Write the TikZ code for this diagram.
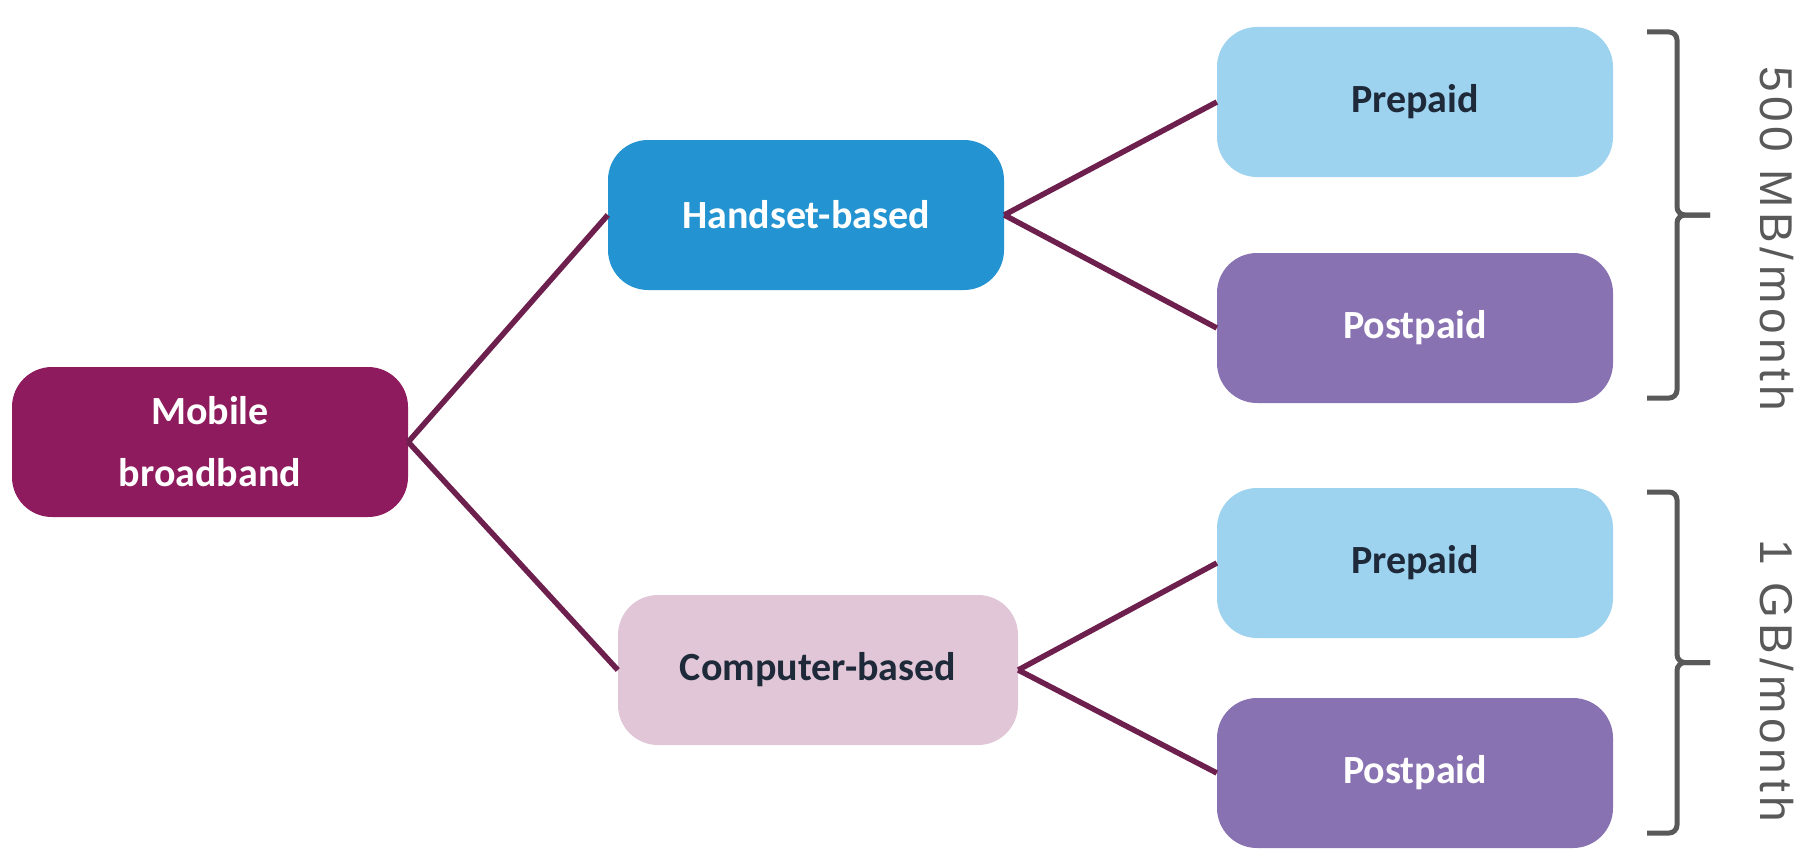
\documentclass[tikz,border=0pt]{standalone}
\usepackage{fontspec}
\setmainfont{Carlito}
\newfontfamily\sidefont[LetterSpace=10]{Liberation Sans}
\definecolor{mobilered}{HTML}{8E1B5D}
\definecolor{handblue}{HTML}{2394D1}
\definecolor{comppink}{HTML}{E0C6D6}
\definecolor{prepaidblue}{HTML}{9DD3EE}
\definecolor{postpurple}{HTML}{8872B2}
\definecolor{linkred}{HTML}{6D1F4D}
\definecolor{darktext}{HTML}{1E2A3A}
\definecolor{bracegray}{HTML}{595959}
\begin{document}
\begin{tikzpicture}[x=1pt,y=-1pt,
    box/.style={rounded corners=40pt, minimum width=396pt, minimum height=150pt,
        align=center, inner sep=0pt, font=\fontsize{40}{62}\selectfont\bfseries},
    link/.style={draw=linkred, line width=5.5pt},
    bracket/.style={draw=bracegray, line width=5pt, rounded corners=8pt},
    sidelabel/.style={rotate=-90, anchor=base, text=bracegray,
        font=\sidefont\fontsize{46}{46}\selectfont}]
    \useasboundingbox (0,0) rectangle (1811,856);
    % root and middle level
    \node[box, fill=mobilered, text=white] (mob) at (210,442) {Mobile\\broadband};
    \node[box, fill=handblue, text=white] (hand) at (806,215) {Handset-based};
    \node[box, fill=comppink, text=darktext, minimum width=400pt] (comp) at (818,670) {Computer-based};
    % plans on the right
    \foreach \y/\n/\lbl/\c/\t in {102/pre1/Prepaid/prepaidblue/darktext,
        328/post1/Postpaid/postpurple/white,
        563/pre2/Prepaid/prepaidblue/darktext,
        773/post2/Postpaid/postpurple/white}{%
        \node[box, fill=\c, text=\t] (\n) at (1415,\y) {\lbl};
    }
    % connectors
    \draw[link] (mob.east) -- (hand.west);
    \draw[link] (mob.east) -- (comp.west);
    \foreach \a/\b in {hand/pre1, hand/post1, comp/pre2, comp/post2}
        \draw[link] (\a.east) -- (\b.west);
    % brackets with data volume
    \foreach \t/\b in {32/398, 492/833}{%
        \pgfmathsetmacro{\m}{(\t+\b)/2}
        \draw[bracket] (1647,\t) -- (1677,\t) -- (1677,\m) -- (1710,\m);
        \draw[bracket] (1647,\b) -- (1677,\b) -- (1677,\m) -- (1710,\m);
    }
    \node[sidelabel] (vol1) at (1760,239) {500 MB/month};
    \node[sidelabel] (vol2) at (1760,681) {1 GB/month};
\end{tikzpicture}
\end{document}
